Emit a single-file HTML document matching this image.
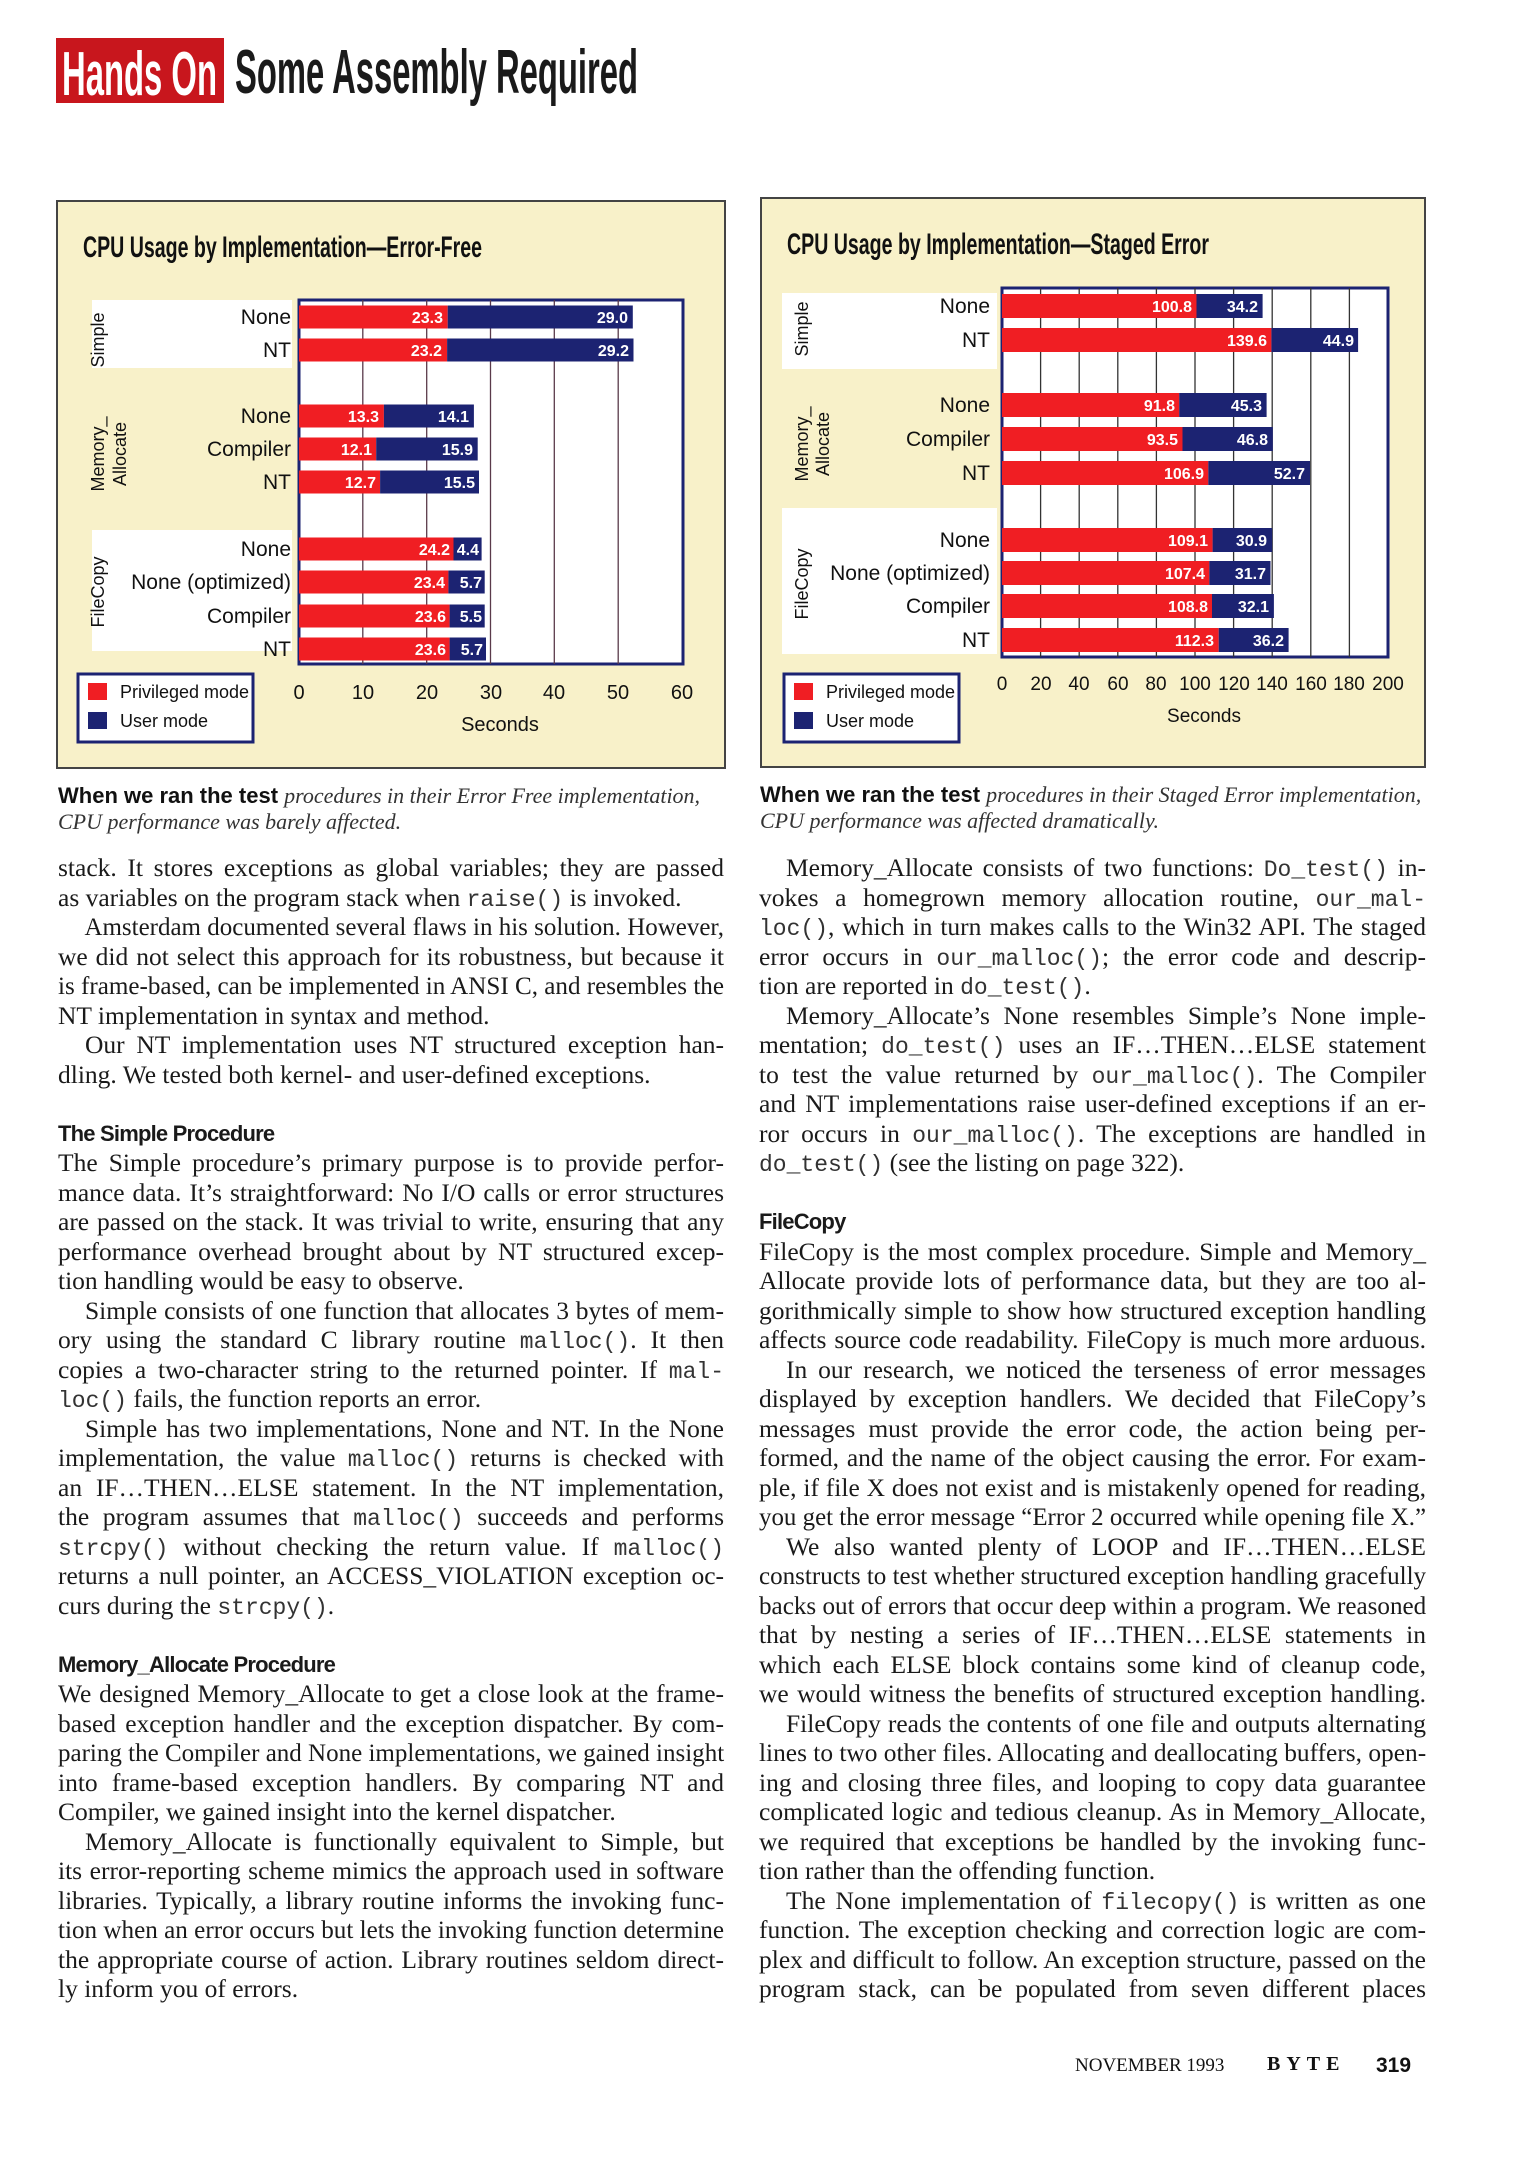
<!DOCTYPE html>
<html><head><meta charset="utf-8">
<style>
html,body{margin:0;padding:0;background:#fff}
body{width:1525px;height:2160px;position:relative;overflow:hidden}
svg{position:absolute;left:0;top:0}
.l{position:absolute;top:calc(853px + var(--k) * 29.5px);height:30px;line-height:30px;font-family:"Liberation Serif",serif;font-size:25.5px;color:#1a1a1a;white-space:nowrap;text-align:justify;text-align-last:justify;box-sizing:border-box;transform-origin:0 50%}
.L{left:58px;width:666px}
.R{left:759px;width:667px}
.i{padding-left:27px}
.f{text-align-last:left}
.h{font-family:"Liberation Sans",sans-serif;font-weight:bold;font-size:22px;letter-spacing:-0.8px;text-align-last:left}
code{font-family:"Liberation Mono",monospace;font-size:23px;color:#333}
.ft{position:absolute;top:2055px;font-family:"Liberation Serif",serif;color:#111;white-space:nowrap}
</style></head><body>
<svg width="1525" height="840" viewBox="0 0 1525 840" font-family="Liberation Sans, sans-serif">
<rect x="56" y="38" width="168" height="65" fill="#c8161d"/>
<text x="62" y="95" fill="#fff" font-size="62" font-weight="bold" textLength="155" lengthAdjust="spacingAndGlyphs">Hands On</text>
<text x="235" y="93" fill="#1a1a1a" font-size="62" font-weight="bold" textLength="403" lengthAdjust="spacingAndGlyphs">Some Assembly Required</text>

<rect x="57" y="201" width="668" height="567" fill="#f8f1c9" stroke="#444" stroke-width="2"/>
<text x="83" y="257" font-size="30" font-weight="bold" fill="#111" textLength="399" lengthAdjust="spacingAndGlyphs">CPU Usage by Implementation—Error-Free</text>
<rect x="92" y="300" width="200" height="68" fill="#fff"/>
<rect x="92" y="530" width="200" height="121" fill="#fff"/>
<rect x="299" y="300" width="384" height="364" fill="#fff" stroke="#1c2372" stroke-width="3"/>
<g stroke="#5a3a4a" stroke-width="1.3">
<line x1="362.8" y1="300" x2="362.8" y2="664"/><line x1="426.7" y1="300" x2="426.7" y2="664"/><line x1="490.5" y1="300" x2="490.5" y2="664"/><line x1="554.3" y1="300" x2="554.3" y2="664"/><line x1="618.2" y1="300" x2="618.2" y2="664"/>
</g>
<g fill="#f01e23">
<rect x="299" y="305.5" width="148.7" height="23"/><rect x="299" y="338.5" width="148.1" height="23"/>
<rect x="299" y="404.5" width="84.9" height="23"/><rect x="299" y="437.5" width="77.2" height="23"/><rect x="299" y="470.5" width="81.1" height="23"/>
<rect x="299" y="537.5" width="154.5" height="23"/><rect x="299" y="570.5" width="149.4" height="23"/><rect x="299" y="604.5" width="150.6" height="23"/><rect x="299" y="637.5" width="150.6" height="23"/>
</g>
<g fill="#1c2372">
<rect x="447.7" y="305.5" width="185.1" height="23"/><rect x="447.1" y="338.5" width="186.4" height="23"/>
<rect x="383.9" y="404.5" width="90" height="23"/><rect x="376.2" y="437.5" width="101.5" height="23"/><rect x="380.1" y="470.5" width="98.9" height="23"/>
<rect x="453.5" y="537.5" width="28.1" height="23"/><rect x="448.4" y="570.5" width="36.3" height="23"/><rect x="449.6" y="604.5" width="35.1" height="23"/><rect x="449.6" y="637.5" width="36.4" height="23"/>
</g>
<g fill="#fff" font-size="16" font-weight="bold" text-anchor="end">
<text x="443" y="323">23.3</text><text x="628" y="323">29.0</text>
<text x="442" y="356">23.2</text><text x="629" y="356">29.2</text>
<text x="379" y="422">13.3</text><text x="469" y="422">14.1</text>
<text x="372" y="455">12.1</text><text x="473" y="455">15.9</text>
<text x="376" y="488">12.7</text><text x="475" y="488">15.5</text>
<text x="450" y="555">24.2</text><text x="479" y="555">4.4</text>
<text x="445" y="588">23.4</text><text x="482" y="588">5.7</text>
<text x="446" y="622">23.6</text><text x="482" y="622">5.5</text>
<text x="446" y="655">23.6</text><text x="483" y="655">5.7</text>
</g>
<g fill="#111" font-size="21" text-anchor="end">
<text x="291" y="324">None</text><text x="291" y="357">NT</text>
<text x="291" y="423">None</text><text x="291" y="456">Compiler</text><text x="291" y="489">NT</text>
<text x="291" y="556">None</text><text x="291" y="589">None (optimized)</text><text x="291" y="623">Compiler</text><text x="291" y="656">NT</text>
</g>
<g fill="#111" font-size="18" text-anchor="middle">
<text transform="translate(104,340) rotate(-90)">Simple</text>
<text transform="translate(104,454) rotate(-90)">Memory_</text>
<text transform="translate(126,454) rotate(-90)">Allocate</text>
<text transform="translate(104,592) rotate(-90)">FileCopy</text>
</g>
<g fill="#111" font-size="20" text-anchor="middle">
<text x="299" y="699">0</text><text x="363" y="699">10</text><text x="427" y="699">20</text><text x="491" y="699">30</text><text x="554" y="699">40</text><text x="618" y="699">50</text><text x="682" y="699">60</text>
<text x="500" y="731">Seconds</text>
</g>
<rect x="78" y="674" width="175" height="68" fill="#fff" stroke="#1c2372" stroke-width="3"/>
<rect x="88" y="683" width="19" height="17" fill="#f01e23"/>
<rect x="88" y="712" width="19" height="17" fill="#1c2372"/>
<g fill="#111" font-size="18"><text x="120" y="698">Privileged mode</text><text x="120" y="727">User mode</text></g>
<text x="58" y="803" font-size="22" fill="#111"><tspan font-weight="bold" font-family="Liberation Sans, sans-serif">When we ran the test </tspan><tspan font-family="Liberation Serif, serif" font-style="italic" fill="#333">procedures in their Error Free implementation,</tspan></text>
<text x="58" y="829" font-size="22" fill="#333" font-family="Liberation Serif, serif" font-style="italic">CPU performance was barely affected.</text>

<rect x="761" y="198" width="664" height="569" fill="#f8f1c9" stroke="#444" stroke-width="2"/>
<text x="787" y="254" font-size="30" font-weight="bold" fill="#111" textLength="422" lengthAdjust="spacingAndGlyphs">CPU Usage by Implementation—Staged Error</text>
<rect x="782" y="293" width="215" height="76" fill="#fff"/>
<rect x="782" y="508" width="215" height="146" fill="#fff"/>
<rect x="1002" y="288" width="386" height="369" fill="#fff" stroke="#1c2372" stroke-width="3"/>
<g stroke="#333" stroke-width="1.3">
<line x1="1040.6" y1="288" x2="1040.6" y2="657"/><line x1="1079.2" y1="288" x2="1079.2" y2="657"/><line x1="1117.8" y1="288" x2="1117.8" y2="657"/><line x1="1156.4" y1="288" x2="1156.4" y2="657"/><line x1="1195" y1="288" x2="1195" y2="657"/><line x1="1233.6" y1="288" x2="1233.6" y2="657"/><line x1="1272.2" y1="288" x2="1272.2" y2="657"/><line x1="1310.8" y1="288" x2="1310.8" y2="657"/><line x1="1349.4" y1="288" x2="1349.4" y2="657"/>
</g>
<g fill="#f01e23">
<rect x="1002" y="294" width="194.5" height="24"/><rect x="1002" y="328" width="269.4" height="24"/>
<rect x="1002" y="393" width="177.2" height="24"/><rect x="1002" y="427" width="180.5" height="24"/><rect x="1002" y="461" width="206.3" height="24"/>
<rect x="1002" y="528" width="210.6" height="24"/><rect x="1002" y="561" width="207.3" height="24"/><rect x="1002" y="594" width="210" height="24"/><rect x="1002" y="628" width="216.7" height="24"/>
</g>
<g fill="#1c2372">
<rect x="1196.5" y="294" width="66.1" height="24"/><rect x="1271.4" y="328" width="86.7" height="24"/>
<rect x="1179.2" y="393" width="87.4" height="24"/><rect x="1182.5" y="427" width="90.3" height="24"/><rect x="1208.3" y="461" width="101.7" height="24"/>
<rect x="1212.6" y="528" width="59.6" height="24"/><rect x="1209.3" y="561" width="61.2" height="24"/><rect x="1212" y="594" width="61.9" height="24"/><rect x="1218.7" y="628" width="69.9" height="24"/>
</g>
<g fill="#fff" font-size="16" font-weight="bold" text-anchor="end">
<text x="1192" y="312">100.8</text><text x="1258" y="312">34.2</text>
<text x="1267" y="346">139.6</text><text x="1354" y="346">44.9</text>
<text x="1175" y="411">91.8</text><text x="1262" y="411">45.3</text>
<text x="1178" y="445">93.5</text><text x="1268" y="445">46.8</text>
<text x="1204" y="479">106.9</text><text x="1305" y="479">52.7</text>
<text x="1208" y="546">109.1</text><text x="1267" y="546">30.9</text>
<text x="1205" y="579">107.4</text><text x="1266" y="579">31.7</text>
<text x="1208" y="612">108.8</text><text x="1269" y="612">32.1</text>
<text x="1214" y="646">112.3</text><text x="1284" y="646">36.2</text>
</g>
<g fill="#111" font-size="21" text-anchor="end">
<text x="990" y="313">None</text><text x="990" y="347">NT</text>
<text x="990" y="412">None</text><text x="990" y="446">Compiler</text><text x="990" y="480">NT</text>
<text x="990" y="547">None</text><text x="990" y="580">None (optimized)</text><text x="990" y="613">Compiler</text><text x="990" y="647">NT</text>
</g>
<g fill="#111" font-size="18" text-anchor="middle">
<text transform="translate(808,329) rotate(-90)">Simple</text>
<text transform="translate(808,444) rotate(-90)">Memory_</text>
<text transform="translate(829,444) rotate(-90)">Allocate</text>
<text transform="translate(808,584) rotate(-90)">FileCopy</text>
</g>
<g fill="#111" font-size="19" text-anchor="middle">
<text x="1002" y="690">0</text><text x="1041" y="690">20</text><text x="1079" y="690">40</text><text x="1118" y="690">60</text><text x="1156" y="690">80</text><text x="1195" y="690">100</text><text x="1234" y="690">120</text><text x="1272" y="690">140</text><text x="1311" y="690">160</text><text x="1349" y="690">180</text><text x="1388" y="690">200</text>
<text x="1204" y="722">Seconds</text>
</g>
<rect x="784" y="674" width="175" height="68" fill="#fff" stroke="#1c2372" stroke-width="3"/>
<rect x="794" y="683" width="19" height="17" fill="#f01e23"/>
<rect x="794" y="712" width="19" height="17" fill="#1c2372"/>
<g fill="#111" font-size="18"><text x="826" y="698">Privileged mode</text><text x="826" y="727">User mode</text></g>
<text x="760" y="802" font-size="22" fill="#111"><tspan font-weight="bold" font-family="Liberation Sans, sans-serif">When we ran the test </tspan><tspan font-family="Liberation Serif, serif" font-style="italic" fill="#333">procedures in their Staged Error implementation,</tspan></text>
<text x="760" y="828" font-size="22" fill="#333" font-family="Liberation Serif, serif" font-style="italic">CPU performance was affected dramatically.</text>
</svg>

<div class="l L" style="--k:0">stack. It stores exceptions as global variables; they are passed</div>
<div class="l L f" style="--k:1">as variables on the program stack when <code>raise()</code> is invoked.</div>
<div class="l L i" style="--k:2">Amsterdam documented several flaws in his solution. However,</div>
<div class="l L" style="--k:3">we did not select this approach for its robustness, but because it</div>
<div class="l L" style="--k:4">is frame-based, can be implemented in ANSI C, and resembles the</div>
<div class="l L f" style="--k:5">NT implementation in syntax and method.</div>
<div class="l L i" style="--k:6">Our NT implementation uses NT structured exception han-</div>
<div class="l L f" style="--k:7">dling. We tested both kernel- and user-defined exceptions.</div>
<div class="l L h" style="--k:9">The Simple Procedure</div>
<div class="l L" style="--k:10">The Simple procedure’s primary purpose is to provide perfor-</div>
<div class="l L" style="--k:11">mance data. It’s straightforward: No I/O calls or error structures</div>
<div class="l L" style="--k:12">are passed on the stack. It was trivial to write, ensuring that any</div>
<div class="l L" style="--k:13">performance overhead brought about by NT structured excep-</div>
<div class="l L f" style="--k:14">tion handling would be easy to observe.</div>
<div class="l L i" style="--k:15">Simple consists of one function that allocates 3 bytes of mem-</div>
<div class="l L" style="--k:16">ory using the standard C library routine <code>malloc()</code>. It then</div>
<div class="l L" style="--k:17">copies a two-character string to the returned pointer. If <code>mal-</code></div>
<div class="l L f" style="--k:18"><code>loc()</code> fails, the function reports an error.</div>
<div class="l L i" style="--k:19">Simple has two implementations, None and NT. In the None</div>
<div class="l L" style="--k:20">implementation, the value <code>malloc()</code> returns is checked with</div>
<div class="l L" style="--k:21">an IF…THEN…ELSE statement. In the NT implementation,</div>
<div class="l L" style="--k:22">the program assumes that <code>malloc()</code> succeeds and performs</div>
<div class="l L" style="--k:23"><code>strcpy()</code> without checking the return value. If <code>malloc()</code></div>
<div class="l L" style="--k:24">returns a null pointer, an ACCESS_VIOLATION exception oc-</div>
<div class="l L f" style="--k:25">curs during the <code>strcpy()</code>.</div>
<div class="l L h" style="--k:27">Memory_Allocate Procedure</div>
<div class="l L" style="--k:28">We designed Memory_Allocate to get a close look at the frame-</div>
<div class="l L" style="--k:29">based exception handler and the exception dispatcher. By com-</div>
<div class="l L" style="--k:30">paring the Compiler and None implementations, we gained insight</div>
<div class="l L" style="--k:31">into frame-based exception handlers. By comparing NT and</div>
<div class="l L f" style="--k:32">Compiler, we gained insight into the kernel dispatcher.</div>
<div class="l L i" style="--k:33">Memory_Allocate is functionally equivalent to Simple, but</div>
<div class="l L" style="--k:34">its error-reporting scheme mimics the approach used in software</div>
<div class="l L" style="--k:35">libraries. Typically, a library routine informs the invoking func-</div>
<div class="l L" style="--k:36">tion when an error occurs but lets the invoking function determine</div>
<div class="l L" style="--k:37">the appropriate course of action. Library routines seldom direct-</div>
<div class="l L f" style="--k:38">ly inform you of errors.</div>

<div class="l R i" style="--k:0">Memory_Allocate consists of two functions: <code>Do_test()</code> in-</div>
<div class="l R" style="--k:1">vokes a homegrown memory allocation routine, <code>our_mal-</code></div>
<div class="l R" style="--k:2"><code>loc()</code>, which in turn makes calls to the Win32 API. The staged</div>
<div class="l R" style="--k:3">error occurs in <code>our_malloc()</code>; the error code and descrip-</div>
<div class="l R f" style="--k:4">tion are reported in <code>do_test()</code>.</div>
<div class="l R i" style="--k:5">Memory_Allocate’s None resembles Simple’s None imple-</div>
<div class="l R" style="--k:6">mentation; <code>do_test()</code> uses an IF…THEN…ELSE statement</div>
<div class="l R" style="--k:7">to test the value returned by <code>our_malloc()</code>. The Compiler</div>
<div class="l R" style="--k:8">and NT implementations raise user-defined exceptions if an er-</div>
<div class="l R" style="--k:9">ror occurs in <code>our_malloc()</code>. The exceptions are handled in</div>
<div class="l R f" style="--k:10"><code>do_test()</code> (see the listing on page 322).</div>
<div class="l R h" style="--k:12">FileCopy</div>
<div class="l R" style="--k:13">FileCopy is the most complex procedure. Simple and Memory_</div>
<div class="l R" style="--k:14">Allocate provide lots of performance data, but they are too al-</div>
<div class="l R" style="--k:15">gorithmically simple to show how structured exception handling</div>
<div class="l R" style="--k:16">affects source code readability. FileCopy is much more arduous.</div>
<div class="l R i" style="--k:17">In our research, we noticed the terseness of error messages</div>
<div class="l R" style="--k:18">displayed by exception handlers. We decided that FileCopy’s</div>
<div class="l R" style="--k:19">messages must provide the error code, the action being per-</div>
<div class="l R" style="--k:20">formed, and the name of the object causing the error. For exam-</div>
<div class="l R" style="--k:21">ple, if file X does not exist and is mistakenly opened for reading,</div>
<div class="l R" style="--k:22">you get the error message “Error 2 occurred while opening file X.”</div>
<div class="l R i" style="--k:23">We also wanted plenty of LOOP and IF…THEN…ELSE</div>
<div class="l R" style="--k:24">constructs to test whether structured exception handling gracefully</div>
<div class="l R" style="--k:25">backs out of errors that occur deep within a program. We reasoned</div>
<div class="l R" style="--k:26">that by nesting a series of IF…THEN…ELSE statements in</div>
<div class="l R" style="--k:27">which each ELSE block contains some kind of cleanup code,</div>
<div class="l R" style="--k:28">we would witness the benefits of structured exception handling.</div>
<div class="l R i" style="--k:29">FileCopy reads the contents of one file and outputs alternating</div>
<div class="l R" style="--k:30">lines to two other files. Allocating and deallocating buffers, open-</div>
<div class="l R" style="--k:31">ing and closing three files, and looping to copy data guarantee</div>
<div class="l R" style="--k:32">complicated logic and tedious cleanup. As in Memory_Allocate,</div>
<div class="l R" style="--k:33">we required that exceptions be handled by the invoking func-</div>
<div class="l R f" style="--k:34">tion rather than the offending function.</div>
<div class="l R i" style="--k:35">The None implementation of <code>filecopy()</code> is written as one</div>
<div class="l R" style="--k:36">function. The exception checking and correction logic are com-</div>
<div class="l R" style="--k:37">plex and difficult to follow. An exception structure, passed on the</div>
<div class="l R" style="--k:38">program stack, can be populated from seven different places</div>

<div class="ft" style="left:1075px;font-size:19px">NOVEMBER 1993</div>
<div class="ft" style="left:1267px;font-size:20px;font-weight:bold;letter-spacing:6px;top:2053px">BYTE</div>
<div class="ft" style="left:1376px;font-size:21px;font-weight:900;font-family:'Liberation Sans',sans-serif;top:2054px">319</div>

<script>
document.querySelectorAll('.l').forEach(function(d){
  var w=d.clientWidth, s=d.scrollWidth;
  if(s>w+1){d.style.width=s+'px';d.style.transform='scaleX('+(w/s)+')';}
});
</script>
</body></html>
